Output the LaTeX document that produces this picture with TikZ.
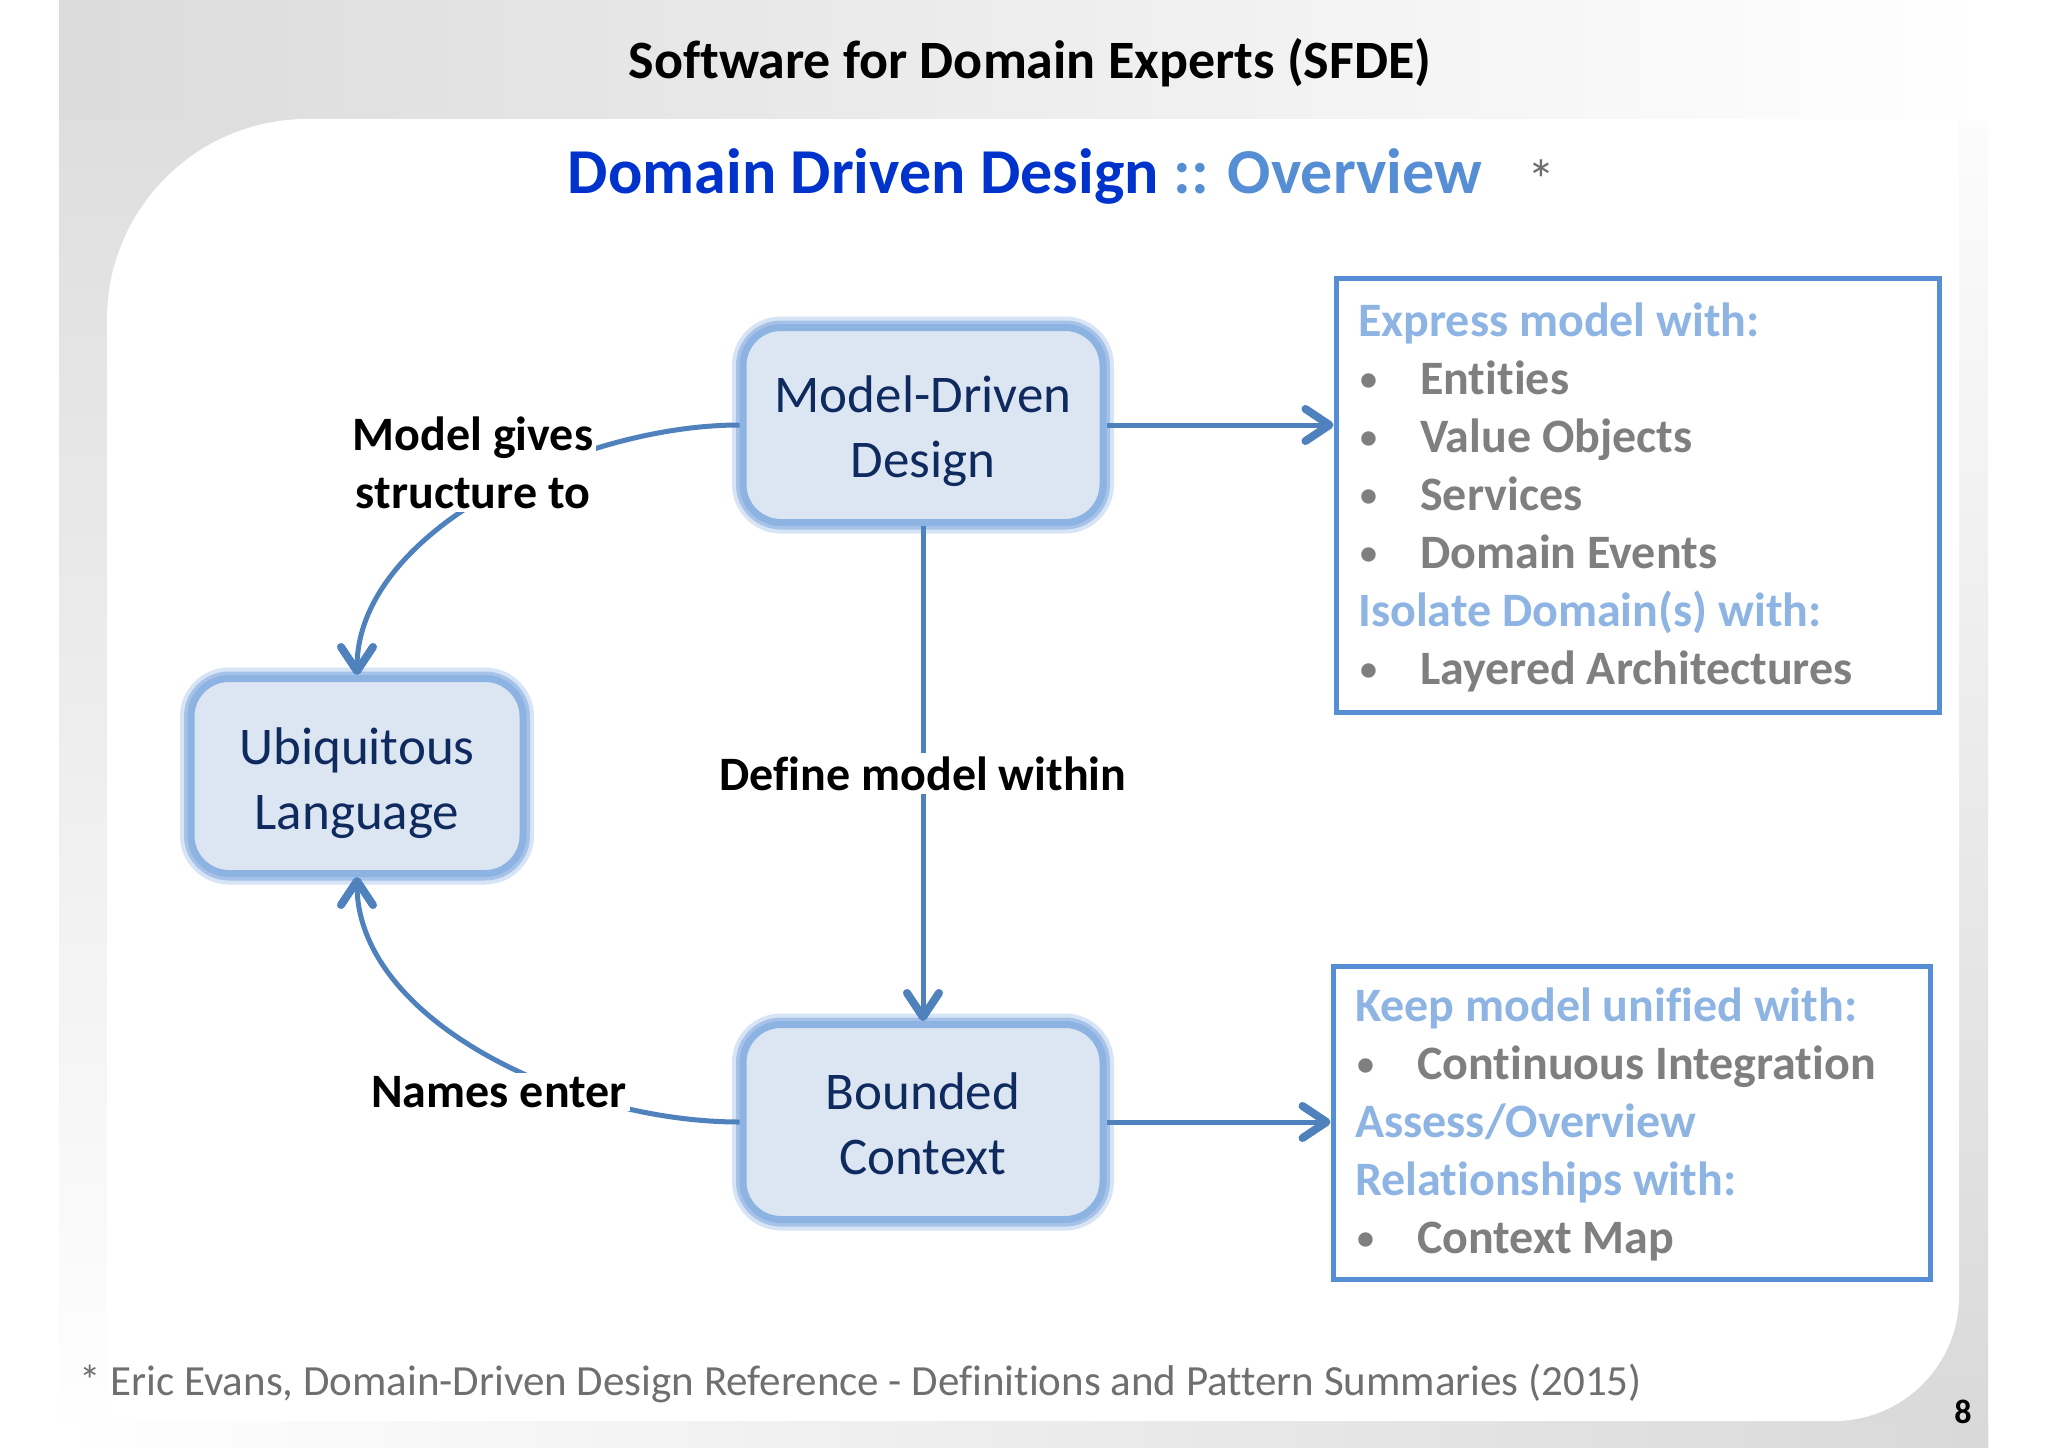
\documentclass[tikz,border=0pt]{standalone}
\usepackage{fontspec}
\setmainfont{Carlito}[Ligatures=NoCommon]
\usetikzlibrary{arrows.meta}
\definecolor{titleblue}{HTML}{0033CC}
\definecolor{ovblue}{HTML}{558ED5}
\definecolor{hdr}{HTML}{8EB4E3}
\definecolor{itemgrey}{HTML}{7F7F7F}
\definecolor{footgrey}{HTML}{6F6F6F}
\definecolor{frameblue}{HTML}{558ED5}
\definecolor{conn}{HTML}{4F81BD}
\definecolor{nodefill}{HTML}{DCE6F2}
\definecolor{nodeborder}{HTML}{8DB3E2}
\definecolor{glowA}{HTML}{C6D9F1}
\definecolor{glowB}{HTML}{A7C2E8}
\definecolor{navy}{HTML}{0F2A5E}
\newcommand{\bul}{\makebox[60pt][l]{\raisebox{4pt}{\fontsize{34}{34}\selectfont •}}}
\begin{document}
\begin{tikzpicture}[x=1pt,y=-1pt,
  mbox/.style={rounded corners=38pt, fill=nodefill, draw=nodeborder, line width=7pt,
    minimum width=360pt, minimum height=195pt,
    preaction={draw=glowA, line width=22pt, draw opacity=0.7},
    preaction={draw=glowB, line width=14pt}},
  mtext/.style={text=navy, align=center, inner sep=0pt, font=\fontsize{53}{65}\selectfont},
  infobox/.style={draw=frameblue, line width=5pt, fill=white, inner sep=0pt},
  hline/.style={anchor=base west, inner sep=0pt, text=hdr, font=\fontsize{48}{58}\selectfont\bfseries},
  iline/.style={anchor=base west, inner sep=0pt, text=itemgrey, font=\fontsize{48}{58}\selectfont\bfseries},
  lbl/.style={fill=white, inner sep=3pt, align=center, text=black, font=\fontsize{48}{58}\selectfont\bfseries},
  connector/.style={draw=conn, line width=5pt},
  arr/.style={-{Straight Barb[length=24pt,width=32pt,line width=8pt,round]}}
]
\useasboundingbox (0,0) rectangle (2048,1448);
\fill[white] (0,0) rectangle (2048,1448);
% slide frame
\shade[top color=black!14, bottom color=white] (59,0) rectangle (420,1448);
\shade[top color=white, bottom color=black!15] (1680,0) rectangle (1988,1448);
\shade[left color=black!14, right color=white] (59,0) rectangle (1988,119);
\shade[left color=white, right color=black!15] (59,1421) rectangle (1988,1448);
\fill[white] (107,1421) -- (107,319) .. controls (107,209) and (197,119) .. (307,119)
  -- (1959,119) -- (1959,1296) .. controls (1959,1365) and (1903,1421) .. (1834,1421) -- cycle;

% titles
\node[font=\fontsize{54}{64}\selectfont\bfseries] (title) at (1030,63) {Software for Domain Experts (SFDE)};
\node[font=\fontsize{64}{76}\selectfont\bfseries] (subtitle) at (1025,176)
  {\textcolor{titleblue}{Domain Driven Design} \textcolor{ovblue}{:: Overview}};
\node[font=\fontsize{56}{60}\selectfont, text=footgrey] (star) at (1541,180) {*};

% main nodes
\node[mbox] (mdd) at (923,425) {};
\node[mtext] (mddt) at (923,431) {Model-Driven\\Design};
\node[mbox, minimum width=332pt] (ul) at (357,776) {};
\node[mtext] (ult) at (357,783) {Ubiquitous\\Language};
\node[mbox] (bc) at (923,1122) {};
\node[mtext] (bct) at (923,1124) {Bounded\\Context};

% info boxes
\node[infobox, minimum width=603pt, minimum height=434pt] (box1) at (1637.5,495) {};
\node[infobox, minimum width=597pt, minimum height=313pt] (box2) at (1631.5,1122.5) {};

\node[hline] (e1) at (1358,336) {Express model with:};
\node[iline] (e2) at (1360,394) {\bul Entities};
\node[iline] (e3) at (1360,452) {\bul Value Objects};
\node[iline] (e4) at (1360,510) {\bul Services};
\node[iline] (e5) at (1360,568) {\bul Domain Events};
\node[hline] (e6) at (1358,626) {Isolate Domain(s) with:};
\node[iline] (e7) at (1360,684) {\bul Layered Architectures};

\node[hline] (k1) at (1355,1021) {Keep model unified with:};
\node[iline] (k2) at (1357,1079) {\bul Continuous Integration};
\node[hline] (k3) at (1355,1137) {Assess/Overview};
\node[hline] (k4) at (1355,1195) {Relationships with:};
\node[iline] (k5) at (1357,1253) {\bul Context Map};

% connectors
\draw[connector, arr] (mdd.east) -- (mdd.east -| box1.west);
\draw[connector, arr] (bc.east) -- (bc.east -| box2.west);
\draw[connector, arr] (mdd.south) -- node[lbl] (defl) {Define model within} (bc.north);
\draw[connector, arr] (mdd.west) .. controls (580,425) and (357,530) .. (ul.north);
\draw[connector, arr] (bc.west) .. controls (570,1122) and (357,1020) .. (ul.south);
\node[lbl] (mgl) at (473,463) {Model gives\\structure to};
\node[lbl] (nel) at (499,1092) {Names enter};

% footer
\node[anchor=base west, inner sep=0pt, text=footgrey, font=\fontsize{43}{50}\selectfont] (foot) at (79,1395)
  {* Eric Evans, Domain-Driven Design Reference - Definitions and Pattern Summaries (2015)};
\node[anchor=base, inner sep=0pt, font=\fontsize{34}{40}\selectfont\bfseries] (pnum) at (1963,1423) {8};
\end{tikzpicture}
\end{document}
